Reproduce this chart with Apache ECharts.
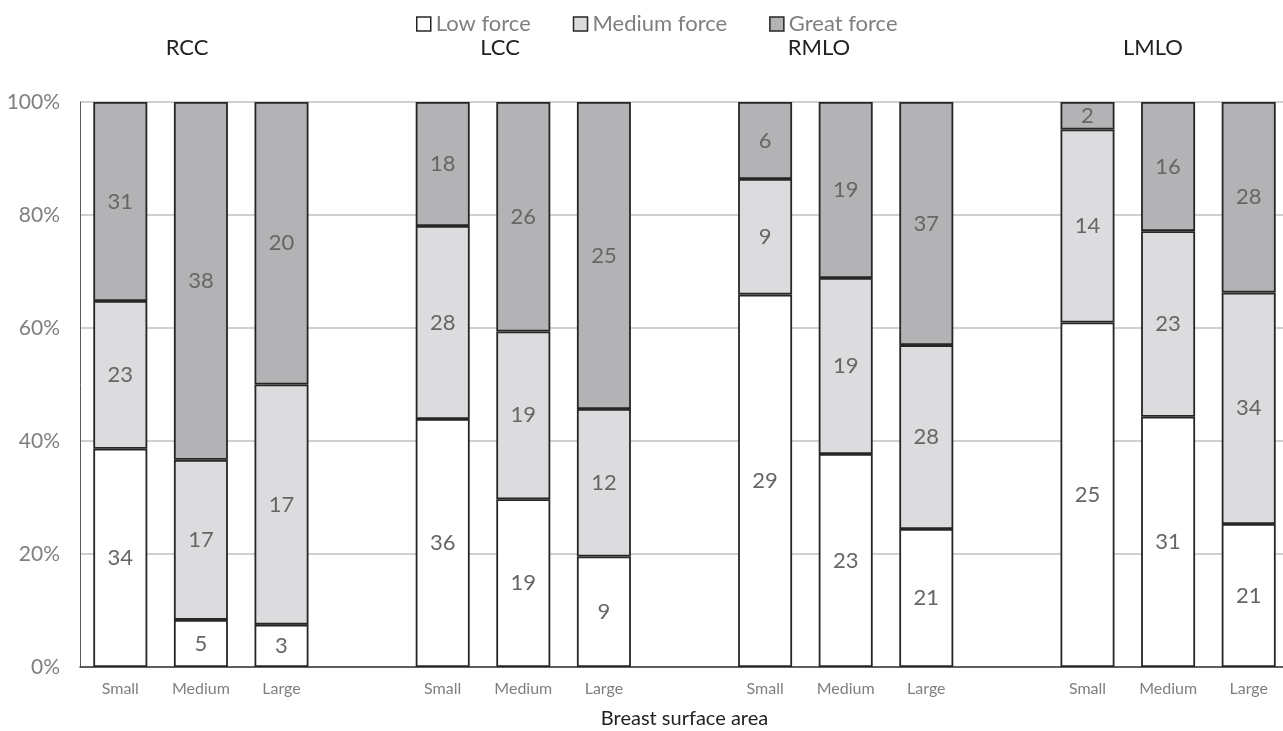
<!DOCTYPE html>
<html>
<head>
<meta charset="utf-8">
<script src="https://cdn.jsdelivr.net/npm/echarts@6/dist/echarts.min.js"></script>
<style>
html,body{margin:0;padding:0;background:#fff;}
#chart{width:1283px;height:731px;}
</style>
</head>
<body>
<div id="chart"></div>
<script>
// Slots: Small, Medium, Large per view, blank slot between views
const categories = ['Small','Medium','Large','','Small','Medium','Large','','Small','Medium','Large','','Small','Medium','Large'];
const groupNames = ['RCC','LCC','RMLO','LMLO'];
const seriesNames = ['Low force','Medium force','Great force'];
const lowCounts    = [34, 5, 3, null, 36, 19, 9, null, 29, 23, 21, null, 25, 31, 21];
const mediumCounts = [23, 17, 17, null, 28, 19, 12, null, 9, 19, 28, null, 14, 23, 34];
const greatCounts  = [31, 38, 20, null, 18, 26, 25, null, 6, 19, 37, null, 2, 16, 28];
const yTicks = [0, 20, 40, 60, 80, 100];

const countsList = [lowCounts, mediumCounts, greatCounts];
const totals = categories.map((c, i) => lowCounts[i] == null ? null : lowCounts[i] + mediumCounts[i] + greatCounts[i]);
const pct = arr => arr.map((v, i) => v == null ? null : v / totals[i] * 100);

const FONT = 'Lato';
const colors = ['#ffffff', '#dcdcde', '#b3b3b5'];

const chart = echarts.init(document.getElementById('chart'), null, {renderer: 'canvas'});

const series = countsList.map((arr, k) => ({
  name: seriesNames[k],
  type: 'bar',
  stack: 'total',
  barWidth: 54,
  data: pct(arr),
  itemStyle: {color: colors[k], borderColor: '#262626', borderWidth: 1.8},
  label: {
    show: true,
    position: 'inside',
    color: '#666666',
    fontFamily: FONT,
    fontSize: 22,
    formatter: p => arr[p.dataIndex] == null ? '' : String(arr[p.dataIndex])
  }
}));

const titlePos = [187, 500, 819, 1153];

chart.setOption({
  animation: false,
  backgroundColor: '#ffffff',
  textStyle: {fontFamily: FONT},
  legend: {
    top: 8,
    left: 411,
    itemWidth: 14,
    itemHeight: 14,
    itemGap: 42,
    icon: 'rect',
    textStyle: {color: '#7f7f7f', fontSize: 22, fontFamily: FONT},
    data: seriesNames.map((n, k) => ({name: n, itemStyle: {color: colors[k], borderColor: '#262626', borderWidth: 1.5}}))
  },
  graphic: groupNames.map((g, i) => ({
    type: 'text',
    x: titlePos[i],
    y: 48,
    style: {text: g, fill: '#222222', font: '22px ' + FONT, textAlign: 'center', textVerticalAlign: 'middle'}
  })),
  grid: {left: 80, top: 102, width: 1209, height: 565, containLabel: false, outerBoundsMode: 'none'},
  xAxis: {
    type: 'category',
    data: categories,
    name: 'Breast surface area',
    nameLocation: 'middle',
    nameGap: 42,
    nameTextStyle: {color: '#222222', fontSize: 20, fontFamily: FONT},
    axisLine: {lineStyle: {color: '#3a3a3a', width: 1.5}},
    axisTick: {show: false},
    axisLabel: {color: '#7f7f7f', fontSize: 16, fontFamily: FONT, margin: 14, interval: 0}
  },
  yAxis: {
    type: 'value',
    min: 0,
    max: 100,
    interval: 20,
    axisLine: {show: true, lineStyle: {color: '#595959', width: 1}},
    axisTick: {show: false},
    axisLabel: {color: '#7f7f7f', fontSize: 21, fontFamily: FONT, margin: 20, formatter: v => v + '%'},
    splitLine: {lineStyle: {color: '#c0c0c0', width: 1.5}}
  },
  series: series
});
</script>
</body>
</html>
